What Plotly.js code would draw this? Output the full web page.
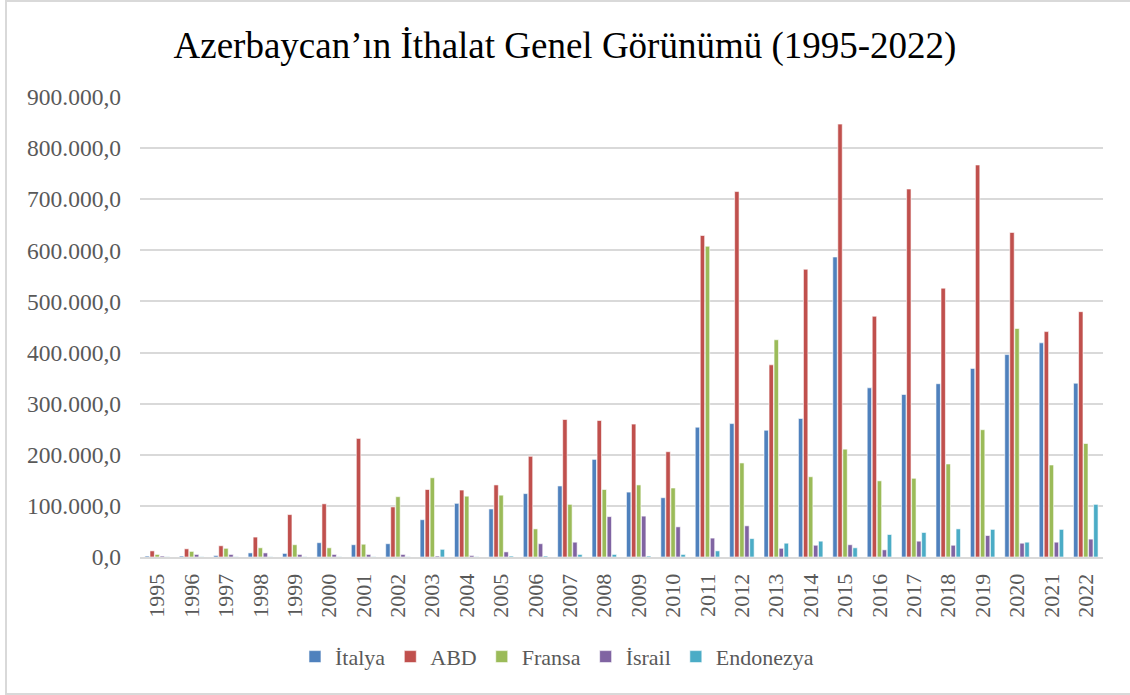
<!DOCTYPE html>
<html>
<head>
<meta charset="utf-8">
<script src="https://cdn.plot.ly/plotly-3.0.1.min.js"></script>
<style>
  html, body { margin: 0; padding: 0; background: #fff; overflow: hidden; }
  #chart { position: absolute; left: 0; top: 0; width: 1130px; height: 695px; }
  #frame { position: absolute; left: 5px; top: 0px; width: 1140px; height: 691px; border: 2px solid #d9d9d9; pointer-events: none; }
</style>
</head>
<body>
<div id="chart"></div>
<div id="frame"></div>
<script>
const years = ["1995","1996","1997","1998","1999","2000","2001","2002","2003","2004","2005","2006","2007","2008","2009","2010","2011","2012","2013","2014","2015","2016","2017","2018","2019","2020","2021","2022"];
const italya    = [2000, 2000, 3000, 8000, 7000, 28000, 24000, 26000, 73000, 105000, 94000, 124000, 139000, 191000, 127000, 116000, 254000, 261000, 248000, 271000, 587000, 331000, 318000, 339000, 369000, 396000, 419000, 340000];
const abd       = [12000, 16000, 22000, 39000, 83000, 104000, 232000, 98000, 132000, 131000, 141000, 197000, 269000, 267000, 260000, 206000, 629000, 715000, 376000, 563000, 847000, 471000, 720000, 526000, 767000, 635000, 441000, 480000];
const fransa    = [5000, 11000, 17000, 18000, 24000, 18000, 25000, 118000, 155000, 119000, 121000, 55000, 103000, 132000, 141000, 135000, 608000, 184000, 425000, 157000, 211000, 149000, 154000, 182000, 249000, 447000, 180000, 222000];
const israil    = [2000, 5000, 5000, 8000, 5000, 5000, 5000, 5000, 2000, 3000, 10000, 26000, 29000, 79000, 80000, 59000, 37000, 61000, 17000, 23000, 24000, 14000, 31000, 23000, 42000, 27000, 29000, 35000];
const endonezya = [500, 500, 500, 500, 500, 500, 500, 500, 15000, 500, 2000, 2000, 5000, 5000, 2000, 5000, 12000, 36000, 27000, 31000, 18000, 44000, 48000, 55000, 54000, 29000, 54000, 103000];

const names  = ["İtalya", "ABD", "Fransa", "İsrail", "Endonezya"];
const series = [italya, abd, fransa, israil, endonezya];
const colors = ["#4F81BD", "#C0504D", "#9BBB59", "#8064A2", "#4BACC6"];

const traces = series.map((vals, i) => ({
  type: "bar",
  name: names[i],
  x: years,
  y: vals,
  marker: { color: colors[i], line: { color: "#ffffff", width: 0.6 } }
}));

const serif = "Liberation Serif, Times New Roman, serif";

const layout = {
  width: 1130,
  height: 695,
  separators: ",.",
  paper_bgcolor: "#ffffff",
  plot_bgcolor: "#ffffff",
  font: { family: serif, color: "#595959", size: 18 },
  title: {
    text: "Azerbaycan’ın İthalat Genel Görünümü (1995-2022)",
    font: { family: serif, size: 37, color: "#000000" },
    xref: "container", x: 0.5, xanchor: "center",
    yref: "container", y: 0.935, yanchor: "middle"
  },
  margin: { l: 140, r: 27, t: 97, b: 138 },
  barmode: "group",
  bargap: 0.27,
  bargroupgap: 0.12,
  xaxis: {
    type: "category",
    tickangle: -90,
    showgrid: false,
    showline: true,
    linecolor: "#d9d9d9",
    linewidth: 2,
    ticks: "",
    ticklabelstandoff: 6,
    tickfont: { family: serif, size: 22, color: "#595959" },
    automargin: false
  },
  yaxis: {
    range: [0, 900000],
    dtick: 100000,
    tickformat: ",.1f",
    showgrid: true,
    gridcolor: "#d9d9d9",
    gridwidth: 2,
    zeroline: false,
    showline: false,
    ticks: "",
    ticklabelstandoff: 18,
    tickfont: { family: serif, size: 23.5, color: "#595959" },
    automargin: false
  },
  showlegend: true,
  legend: {
    orientation: "h",
    x: 0.433, xanchor: "center",
    y: -0.217, yanchor: "middle",
    font: { family: serif, size: 22, color: "#595959" },
    itemwidth: 30,
    traceorder: "normal"
  }
};

Plotly.newPlot("chart", traces, layout, { displayModeBar: false, staticPlot: true });
</script>
</body>
</html>
